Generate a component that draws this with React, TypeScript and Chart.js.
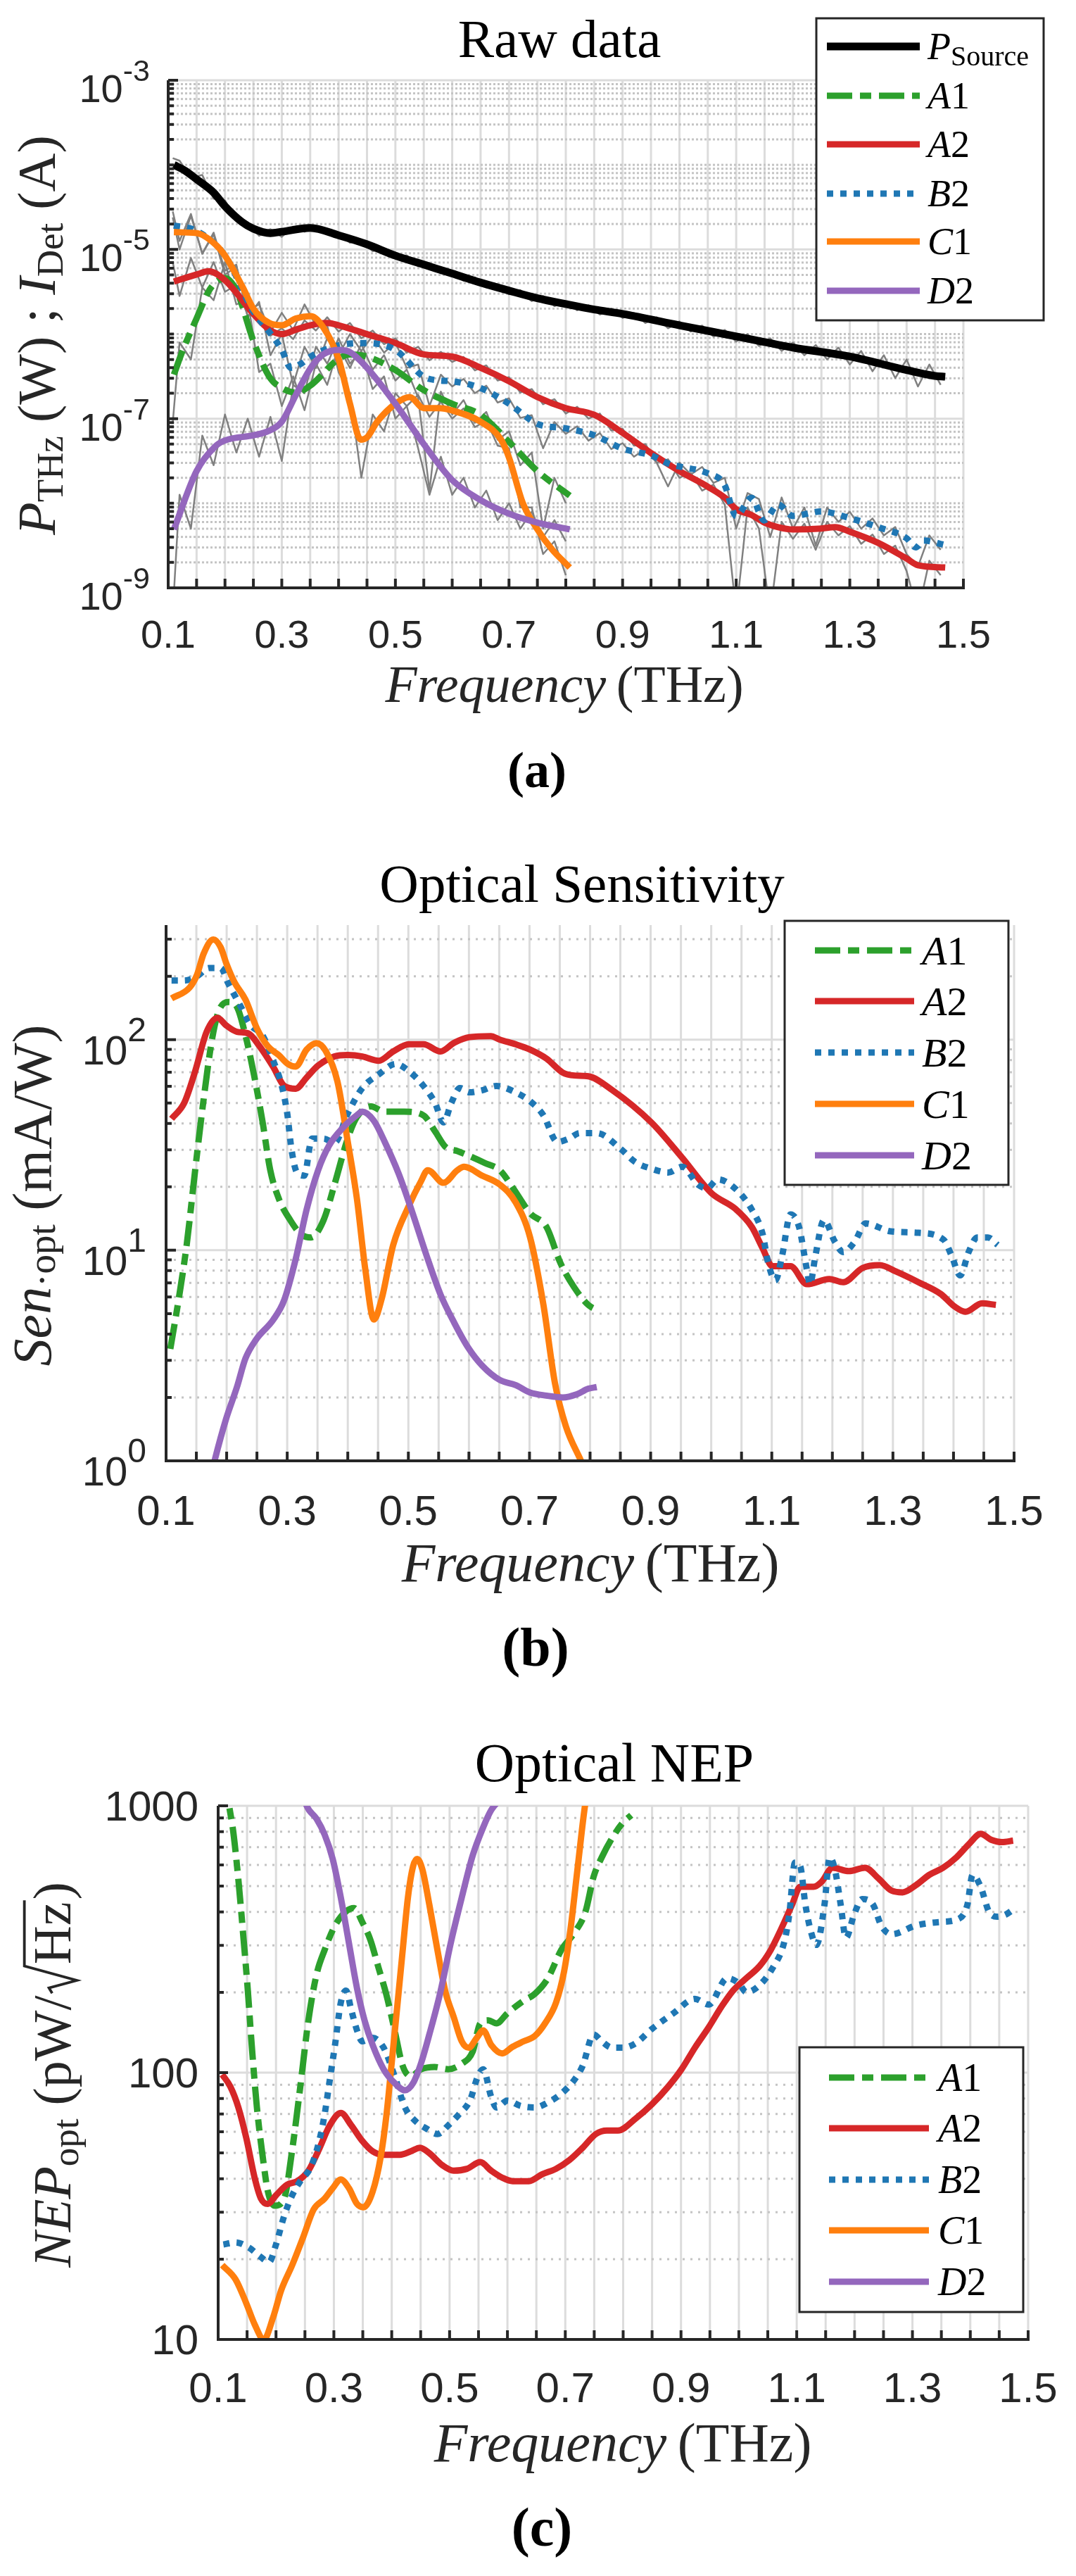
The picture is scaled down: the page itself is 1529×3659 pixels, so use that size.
"use client";
import { useEffect, useRef } from "react";
import Chart from "chart.js/auto";

const W = 1529;
const SERIF = '"Liberation Serif", "Times New Roman", serif';
const SANS = '"Liberation Sans", Arial, Helvetica, sans-serif';
const INK = "#262626";

// ---------- x axis ----------
const xTickVals = [0.1, 0.3, 0.5, 0.7, 0.9, 1.1, 1.3, 1.5];
const xTickText = ["0.1", "0.3", "0.5", "0.7", "0.9", "1.1", "1.3", "1.5"];

// ---------- (a) Raw data: smoothed traces ----------
const srcFreq = [0.11, 0.13, 0.15, 0.18, 0.2, 0.23, 0.25, 0.28, 0.3, 0.35, 0.4, 0.45, 0.5, 0.55, 0.6, 0.65, 0.7, 0.75, 0.8, 0.85, 0.9, 1.0, 1.1, 1.2, 1.3, 1.4, 1.45, 1.468];
const srcPower = [1.0e-4, 8.5e-5, 6.75e-5, 4.7e-5, 3.24e-5, 2.11e-5, 1.76e-5, 1.56e-5, 1.62e-5, 1.8e-5, 1.47e-5, 1.15e-5, 8.45e-6, 6.62e-6, 5.19e-6, 4.06e-6, 3.26e-6, 2.65e-6, 2.26e-6, 1.95e-6, 1.73e-6, 1.27e-6, 9.38e-7, 6.91e-7, 5.42e-7, 3.75e-7, 3.2e-7, 3.13e-7];

const a1FreqA = [0.11, 0.126, 0.15, 0.171, 0.183, 0.2, 0.221, 0.25, 0.278, 0.3, 0.325, 0.35, 0.4, 0.42, 0.45, 0.5, 0.55, 0.6, 0.65, 0.7, 0.75, 0.807];
const a1CurA = [3.32e-7, 6.5e-7, 1.53e-6, 3.18e-6, 4.06e-6, 4.59e-6, 3.18e-6, 8.3e-7, 3.13e-7, 2.3e-7, 2.04e-7, 2.45e-7, 5.09e-7, 5.75e-7, 5.42e-7, 3.75e-7, 2.17e-7, 1.5e-7, 1.11e-7, 5.32e-8, 2.4e-8, 1.23e-8];

const a2FreqA = [0.11, 0.15, 0.171, 0.2, 0.25, 0.278, 0.3, 0.325, 0.35, 0.38, 0.4, 0.45, 0.5, 0.55, 0.6, 0.65, 0.7, 0.75, 0.8, 0.85, 0.9, 0.95, 1.0, 1.05, 1.08, 1.1, 1.127, 1.15, 1.174, 1.2, 1.25, 1.274, 1.3, 1.35, 1.4, 1.42, 1.468];
const a2CurA = [4.17e-6, 5.06e-6, 5.52e-6, 4.32e-6, 1.73e-6, 1.13e-6, 9.98e-7, 1.13e-6, 1.27e-6, 1.35e-6, 1.27e-6, 9.98e-7, 7.82e-7, 5.75e-7, 5.42e-7, 3.99e-7, 2.77e-7, 1.8e-7, 1.33e-7, 1.11e-7, 6.79e-8, 3.92e-8, 2.4e-8, 1.57e-8, 1.16e-8, 8.51e-9, 7.26e-9, 5.9e-9, 5.22e-9, 4.91e-9, 5.03e-9, 5.22e-9, 4.62e-9, 3.4e-9, 2.22e-9, 1.85e-9, 1.74e-9];

const b2FreqA = [0.11, 0.15, 0.2, 0.25, 0.278, 0.3, 0.316, 0.335, 0.351, 0.4, 0.45, 0.5, 0.55, 0.577, 0.6, 0.65, 0.7, 0.75, 0.8, 0.85, 0.9, 0.95, 0.984, 1.0, 1.05, 1.079, 1.1, 1.127, 1.149, 1.174, 1.2, 1.25, 1.3, 1.35, 1.4, 1.416, 1.43, 1.468];
const b2CurA = [1.92e-5, 1.66e-5, 8.45e-6, 1.84e-6, 1.06e-6, 6.5e-7, 3.99e-7, 4.51e-7, 5.42e-7, 7.35e-7, 7.82e-7, 6.5e-7, 3.13e-7, 2.83e-7, 2.77e-7, 2.3e-7, 1.5e-7, 8.67e-8, 7.67e-8, 6.38e-8, 4.42e-8, 3.68e-8, 2.88e-8, 2.72e-8, 2.26e-8, 1.67e-8, 7.08e-9, 1.16e-8, 6.27e-9, 9.61e-9, 7.08e-9, 8.0e-9, 6.67e-9, 5.22e-9, 3.85e-9, 3.01e-9, 3.62e-9, 3.21e-9];

const c1FreqA = [0.11, 0.15, 0.183, 0.2, 0.231, 0.251, 0.278, 0.3, 0.325, 0.351, 0.373, 0.4, 0.42, 0.439, 0.45, 0.468, 0.5, 0.525, 0.55, 0.577, 0.6, 0.65, 0.686, 0.7, 0.724, 0.75, 0.776, 0.807];
const c1CurA = [1.6e-5, 1.56e-5, 1.15e-5, 8.45e-6, 3.6e-6, 1.95e-6, 1.35e-6, 1.27e-6, 1.53e-6, 1.63e-6, 1.2e-6, 5.09e-7, 1.5e-7, 5.65e-8, 6.01e-8, 9.2e-8, 1.5e-7, 1.8e-7, 1.33e-7, 1.33e-7, 1.25e-7, 9.2e-8, 5.65e-8, 3.47e-8, 1.02e-8, 4.91e-9, 2.83e-9, 1.74e-9];

const d2FreqA = [0.11, 0.15, 0.183, 0.2, 0.251, 0.278, 0.3, 0.325, 0.351, 0.373, 0.4, 0.42, 0.45, 0.5, 0.55, 0.6, 0.65, 0.7, 0.75, 0.807];
const d2CurA = [4.91e-9, 2.4e-8, 4.71e-8, 5.52e-8, 6.38e-8, 7.21e-8, 9.2e-8, 1.92e-7, 3.99e-7, 5.75e-7, 6.5e-7, 6.12e-7, 3.99e-7, 1.5e-7, 5.0e-8, 1.88e-8, 1.09e-8, 7.53e-9, 5.9e-9, 4.91e-9];

// ---------- (a) Raw data: unsmoothed (grey) traces ----------
const rawFreqLong = [0.108, 0.12, 0.14, 0.16, 0.18, 0.2, 0.22, 0.24, 0.26, 0.28, 0.3, 0.32, 0.34, 0.36, 0.38, 0.4, 0.42, 0.44, 0.46, 0.48, 0.5, 0.52, 0.54, 0.56, 0.58, 0.6, 0.62, 0.64, 0.66, 0.68, 0.7, 0.72, 0.74, 0.76, 0.78, 0.8, 0.82, 0.84, 0.86, 0.88, 0.9, 0.92, 0.94, 0.96, 0.98, 1.0, 1.02, 1.04, 1.06, 1.08, 1.1, 1.12, 1.14, 1.16, 1.18, 1.2, 1.22, 1.24, 1.26, 1.28, 1.3, 1.32, 1.34, 1.36, 1.38, 1.4, 1.42, 1.44, 1.46];
const rawFreqShort = [0.108, 0.12, 0.14, 0.16, 0.18, 0.2, 0.22, 0.24, 0.26, 0.28, 0.3, 0.32, 0.34, 0.36, 0.38, 0.4, 0.42, 0.44, 0.46, 0.48, 0.5, 0.52, 0.54, 0.56, 0.58, 0.6, 0.62, 0.64, 0.66, 0.68, 0.7, 0.72, 0.74, 0.76, 0.78, 0.8];

const srcRaw = [1.2e-4, 1.12e-4, 7.08e-5, 7.59e-5, 3.98e-5, 3.8e-5, 2.19e-5, 2.09e-5, 1.45e-5, 1.74e-5, 1.41e-5, 1.86e-5, 1.62e-5, 1.91e-5, 1.51e-5, 1.58e-5, 1.2e-5, 1.29e-5, 9.55e-6, 1.02e-5, 7.76e-6, 8.51e-6, 6.31e-6, 6.92e-6, 5.25e-6, 5.62e-6, 4.27e-6, 4.68e-6, 3.55e-6, 3.89e-6, 2.95e-6, 3.31e-6, 2.45e-6, 2.82e-6, 2.14e-6, 2.45e-6, 1.91e-6, 2.19e-6, 1.7e-6, 2.0e-6, 1.55e-6, 1.78e-6, 1.35e-6, 1.58e-6, 1.17e-6, 1.41e-6, 1.07e-6, 1.26e-6, 9.33e-7, 1.12e-6, 8.13e-7, 1.0e-6, 7.24e-7, 8.91e-7, 6.31e-7, 7.94e-7, 5.62e-7, 7.41e-7, 5.01e-7, 6.92e-7, 4.37e-7, 6.31e-7, 3.63e-7, 5.62e-7, 3.02e-7, 5.01e-7, 2.4e-7, 4.37e-7, 2.51e-7];
const a2Raw = [7.08e-6, 2.82e-6, 7.94e-6, 3.55e-6, 7.08e-6, 3.16e-6, 3.8e-6, 1.66e-6, 1.82e-6, 9.55e-7, 1.17e-6, 8.71e-7, 1.45e-6, 1.1e-6, 1.58e-6, 1.07e-6, 1.35e-6, 8.91e-7, 1.1e-6, 7.59e-7, 8.91e-7, 6.03e-7, 7.08e-7, 4.9e-7, 6.17e-7, 4.68e-7, 5.37e-7, 3.72e-7, 4.27e-7, 2.82e-7, 3.09e-7, 2.04e-7, 2.24e-7, 1.48e-7, 1.7e-7, 1.15e-7, 1.38e-7, 1.0e-7, 1.15e-7, 7.24e-8, 7.59e-8, 4.79e-8, 5.01e-8, 3.02e-8, 3.31e-8, 2.0e-8, 2.29e-8, 1.41e-8, 1.66e-8, 9.55e-9, 5.01e-10, 8.91e-9, 5.01e-9, 5.01e-10, 6.03e-9, 3.8e-9, 5.75e-9, 2.82e-9, 6.03e-9, 4.17e-9, 5.37e-9, 3.31e-9, 4.27e-9, 2.51e-9, 3.16e-9, 1.58e-9, 5.01e-10, 2.09e-9, 1.41e-9];
const b2Raw = [2.82e-5, 1.26e-5, 2.63e-5, 8.91e-6, 1.58e-5, 5.62e-6, 6.61e-6, 1.58e-6, 2.4e-6, 5.62e-7, 1.0e-6, 2.51e-7, 7.08e-7, 3.98e-7, 8.91e-7, 5.62e-7, 1.0e-6, 6.31e-7, 9.55e-7, 6.03e-7, 7.94e-7, 3.98e-7, 4.37e-7, 1.41e-7, 3.31e-7, 2.4e-7, 2.95e-7, 2.0e-7, 2.45e-7, 1.55e-7, 1.74e-7, 1.02e-7, 1.1e-7, 4.47e-8, 9.12e-8, 6.61e-8, 8.13e-8, 5.5e-8, 6.76e-8, 4.37e-8, 5.13e-8, 3.55e-8, 4.37e-8, 3.02e-8, 1.58e-8, 3.02e-8, 2.19e-8, 2.69e-8, 1.74e-8, 2.0e-8, 5.01e-9, 1.32e-8, 1.12e-8, 3.98e-9, 1.17e-8, 5.01e-9, 8.91e-9, 3.16e-9, 8.91e-9, 6.03e-9, 7.94e-9, 5.01e-9, 6.61e-9, 4.17e-9, 5.25e-9, 2.51e-9, 1.78e-9, 4.17e-9, 2.82e-9];
const a1Raw = [8.91e-8, 7.94e-7, 5.01e-7, 3.55e-6, 2.51e-6, 7.08e-6, 2.24e-6, 2.51e-6, 3.55e-7, 4.47e-7, 1.41e-7, 3.16e-7, 1.26e-7, 4.47e-7, 2.51e-7, 7.08e-7, 3.98e-7, 7.59e-7, 3.8e-7, 5.62e-7, 2.82e-7, 3.8e-7, 1.78e-7, 1.41e-8, 2.09e-7, 1.12e-7, 1.66e-7, 8.91e-8, 1.2e-7, 5.62e-8, 7.08e-8, 2.82e-8, 3.98e-8, 5.01e-9, 2.0e-8, 1.0e-8];
const c1Raw = [2.4e-5, 1.0e-5, 2.51e-5, 8.91e-6, 1.51e-5, 5.01e-6, 6.31e-6, 1.91e-6, 2.24e-6, 1.05e-6, 1.78e-6, 1.12e-6, 2.24e-6, 1.26e-6, 1.26e-6, 3.55e-7, 2.0e-7, 2.0e-8, 1.12e-7, 7.08e-8, 2.0e-7, 1.41e-7, 1.91e-7, 1.05e-7, 1.58e-7, 1.0e-7, 1.32e-7, 7.94e-8, 9.55e-8, 4.79e-8, 4.47e-8, 8.91e-9, 8.91e-9, 2.51e-9, 3.55e-9, 1.41e-9];
const d2Raw = [5.01e-10, 1.26e-8, 5.01e-9, 6.31e-8, 2.82e-8, 1.12e-7, 3.98e-8, 1.0e-7, 3.55e-8, 1.05e-7, 3.16e-8, 2.51e-7, 2.0e-7, 7.08e-7, 4.47e-7, 8.91e-7, 4.47e-7, 6.31e-7, 2.24e-7, 3.16e-7, 1.0e-7, 1.41e-7, 4.47e-8, 1.26e-8, 3.55e-8, 1.26e-8, 2.0e-8, 8.91e-9, 1.41e-8, 6.31e-9, 1.0e-8, 5.01e-9, 7.94e-9, 3.98e-9, 6.31e-9, 3.55e-9];

// ---------- (b) Optical sensitivity (mA/W) ----------
const a1FreqB = [0.107, 0.121, 0.134, 0.148, 0.162, 0.176, 0.187, 0.203, 0.217, 0.231, 0.245, 0.259, 0.272, 0.286, 0.305, 0.323, 0.339, 0.36, 0.378, 0.4, 0.415, 0.438, 0.461, 0.493, 0.525, 0.544, 0.562, 0.581, 0.601, 0.627, 0.651, 0.673, 0.701, 0.728, 0.751, 0.774, 0.797, 0.811];
const a1SenB = [3.4, 5.9, 10.6, 24.0, 52.1, 101, 137, 151, 143, 105, 68.4, 41.2, 24.0, 17.6, 13.9, 11.9, 11.5, 13.9, 20.5, 34.0, 42.9, 48.2, 45.5, 45.5, 43.7, 36.7, 30.8, 29.6, 28.0, 25.9, 24.0, 19.7, 15.0, 12.9, 8.7, 6.65, 5.5, 5.2];

const a2FreqB = [0.109, 0.13, 0.148, 0.167, 0.185, 0.199, 0.217, 0.236, 0.254, 0.277, 0.295, 0.314, 0.332, 0.351, 0.378, 0.4, 0.424, 0.451, 0.475, 0.501, 0.525, 0.553, 0.576, 0.601, 0.636, 0.651, 0.677, 0.701, 0.728, 0.755, 0.774, 0.797, 0.837, 0.901, 0.952, 1.001, 1.039, 1.067, 1.085, 1.101, 1.131, 1.158, 1.195, 1.218, 1.25, 1.278, 1.306, 1.342, 1.379, 1.402, 1.42, 1.447, 1.47];
const a2SenB = [42.1, 50.1, 70.8, 109, 127, 117, 109, 107, 93.3, 74.1, 60.3, 58.5, 66.1, 75.3, 83.2, 84.5, 83.2, 79.4, 87.9, 95.1, 95.1, 87.9, 96.8, 102.8, 104, 100, 95.1, 89.7, 81.3, 69.7, 67.6, 67.0, 57.5, 40.5, 27.5, 18.6, 15.8, 12.9, 10.2, 8.4, 8.4, 6.9, 7.3, 7.05, 8.24, 8.5, 7.9, 7.05, 6.2, 5.4, 5.1, 5.6, 5.5];

const b2FreqB = [0.109, 0.13, 0.151, 0.171, 0.19, 0.203, 0.222, 0.24, 0.259, 0.277, 0.291, 0.3, 0.307, 0.316, 0.328, 0.341, 0.36, 0.378, 0.4, 0.424, 0.451, 0.479, 0.501, 0.525, 0.544, 0.558, 0.571, 0.585, 0.601, 0.622, 0.645, 0.677, 0.701, 0.723, 0.746, 0.765, 0.783, 0.811, 0.851, 0.874, 0.901, 0.929, 0.952, 0.979, 0.993, 1.011, 1.039, 1.067, 1.085, 1.094, 1.106, 1.117, 1.131, 1.145, 1.158, 1.163, 1.172, 1.186, 1.204, 1.218, 1.237, 1.255, 1.296, 1.342, 1.384, 1.397, 1.411, 1.425, 1.439, 1.457, 1.473];
const b2SenB = [191, 191, 200, 219, 219, 184, 146, 117, 105, 79.4, 60.3, 44.7, 30.2, 23.4, 22.6, 33.9, 33.9, 32.4, 44.7, 58.9, 68.4, 76.7, 70.8, 60.3, 50.1, 40.5, 50.1, 58.9, 56.2, 57.5, 60.3, 56.2, 51.0, 43.7, 32.7, 33.9, 36.0, 36.0, 30.2, 26.3, 24.4, 23.4, 24.9, 20.4, 19.7, 21.7, 19.7, 15.6, 11.9, 8.7, 7.2, 9.4, 14.8, 12.9, 8.07, 6.9, 9.4, 13.9, 11.0, 9.8, 11.0, 13.4, 12.3, 12.1, 11.2, 9.4, 7.6, 9.8, 11.5, 11.5, 10.6];

const c1FreqB = [0.109, 0.139, 0.151, 0.162, 0.178, 0.19, 0.2, 0.213, 0.231, 0.25, 0.268, 0.286, 0.301, 0.314, 0.332, 0.348, 0.364, 0.383, 0.4, 0.415, 0.429, 0.443, 0.456, 0.475, 0.501, 0.521, 0.532, 0.558, 0.581, 0.592, 0.622, 0.651, 0.677, 0.701, 0.723, 0.742, 0.76, 0.785, 0.8];
const c1SenB = [157, 177, 203, 256, 299, 275, 228, 187, 155, 113, 93, 84.5, 76.7, 74.5, 89.7, 96.2, 87.9, 63.1, 32.7, 17.6, 8.07, 4.69, 5.89, 10.6, 16.3, 21.3, 24.0, 20.9, 24.0, 24.9, 22.6, 20.5, 16.9, 11.5, 5.5, 2.34, 1.46, 1.0, 0.8];

const d2FreqB = [0.172, 0.18, 0.199, 0.217, 0.231, 0.249, 0.277, 0.295, 0.314, 0.332, 0.351, 0.369, 0.392, 0.415, 0.424, 0.443, 0.461, 0.484, 0.507, 0.53, 0.553, 0.576, 0.599, 0.622, 0.651, 0.677, 0.701, 0.728, 0.755, 0.778, 0.797, 0.811];
const d2SenB = [0.8, 1.0, 1.58, 2.24, 3.06, 3.78, 4.68, 5.8, 9.08, 15.6, 24.0, 31.4, 38.2, 43.8, 45.5, 41.2, 32.7, 23.1, 15.0, 9.44, 6.17, 4.51, 3.44, 2.83, 2.42, 2.29, 2.11, 2.04, 2.0, 2.07, 2.2, 2.24];

// ---------- (c) Optical NEP (pW/sqrt(Hz)) ----------
const a1FreqC = [0.112, 0.119, 0.126, 0.135, 0.144, 0.151, 0.158, 0.167, 0.177, 0.186, 0.198, 0.214, 0.228, 0.242, 0.256, 0.27, 0.284, 0.302, 0.321, 0.335, 0.349, 0.363, 0.377, 0.391, 0.405, 0.419, 0.433, 0.451, 0.474, 0.498, 0.521, 0.54, 0.553, 0.567, 0.581, 0.6, 0.628, 0.647, 0.67, 0.693, 0.716, 0.735, 0.749, 0.763, 0.781, 0.8, 0.814];
const a1NepC = [1300, 1000, 803, 527, 315, 207, 127, 74, 48.4, 35.8, 31.7, 33.7, 51.4, 88.7, 157, 233, 288, 356, 402, 414, 367, 315, 248, 195, 144, 106, 97, 103, 105, 103, 108, 120, 153, 157, 153, 167, 186, 197, 226, 288, 335, 402, 543, 641, 757, 867, 922];

const a2FreqC = [0.107, 0.121, 0.135, 0.149, 0.163, 0.174, 0.186, 0.2, 0.219, 0.237, 0.256, 0.274, 0.293, 0.312, 0.33, 0.349, 0.367, 0.386, 0.414, 0.433, 0.449, 0.465, 0.488, 0.507, 0.53, 0.553, 0.572, 0.591, 0.609, 0.637, 0.66, 0.684, 0.707, 0.73, 0.753, 0.772, 0.791, 0.822, 0.85, 0.878, 0.901, 0.924, 0.948, 0.971, 0.99, 1.013, 1.036, 1.055, 1.073, 1.092, 1.106, 1.129, 1.143, 1.162, 1.19, 1.218, 1.241, 1.264, 1.283, 1.306, 1.329, 1.353, 1.376, 1.399, 1.418, 1.436, 1.455, 1.474];
const a2NepC = [98.4, 88.7, 74, 56.4, 40.4, 33.7, 32.2, 34.7, 38, 39.2, 42.9, 51.4, 63.5, 70.6, 63.5, 55.5, 50.7, 49.2, 49.2, 50.7, 52.3, 49.9, 44.9, 42.9, 43.6, 46.2, 42.9, 40.4, 39.2, 39.2, 41.6, 43.6, 47, 52.3, 58.9, 60.7, 60.7, 67.4, 76.2, 88.7, 103, 124, 148, 178, 203, 226, 251, 288, 345, 426, 497, 497, 519, 586, 569, 586, 535, 481, 474, 504, 551, 586, 641, 724, 785, 746, 731, 740];

const b2FreqC = [0.109, 0.13, 0.153, 0.172, 0.188, 0.2, 0.214, 0.228, 0.242, 0.26, 0.274, 0.284, 0.293, 0.302, 0.312, 0.321, 0.33, 0.34, 0.349, 0.367, 0.386, 0.405, 0.423, 0.442, 0.46, 0.479, 0.498, 0.516, 0.535, 0.549, 0.558, 0.572, 0.581, 0.6, 0.623, 0.647, 0.67, 0.693, 0.716, 0.73, 0.749, 0.763, 0.781, 0.8, 0.822, 0.85, 0.887, 0.924, 0.948, 0.98, 1.0, 1.013, 1.036, 1.059, 1.078, 1.087, 1.097, 1.106, 1.115, 1.125, 1.134, 1.148, 1.157, 1.166, 1.176, 1.185, 1.199, 1.213, 1.232, 1.246, 1.264, 1.306, 1.348, 1.381, 1.395, 1.404, 1.418, 1.432, 1.446, 1.46, 1.474];
const b2NepC = [22.7, 23.1, 22.1, 20.5, 19.5, 22.7, 29, 34.7, 39.2, 44.2, 54.7, 69.7, 94.2, 127, 183, 203, 172, 144, 131, 135, 124, 97, 74, 65.5, 61.7, 58.9, 63.5, 69.7, 78.5, 97, 103, 81, 74, 78.5, 75, 74, 77.3, 83.4, 94.2, 106, 139, 131, 124, 124, 129, 146, 167, 189, 180, 226, 216, 200, 213, 248, 306, 390, 612, 594, 426, 335, 301, 426, 641, 577, 426, 320, 390, 447, 426, 356, 330, 356, 367, 378, 426, 551, 497, 402, 384, 390, 408];

const c1FreqC = [0.107, 0.13, 0.149, 0.163, 0.179, 0.195, 0.209, 0.228, 0.247, 0.265, 0.284, 0.298, 0.312, 0.326, 0.34, 0.351, 0.367, 0.381, 0.391, 0.4, 0.409, 0.419, 0.428, 0.437, 0.444, 0.453, 0.465, 0.479, 0.493, 0.507, 0.521, 0.533, 0.547, 0.558, 0.572, 0.591, 0.609, 0.628, 0.647, 0.665, 0.684, 0.698, 0.709, 0.721, 0.733, 0.74];
const c1NepC = [19, 16.8, 13.6, 11.4, 10.0, 12.1, 15.3, 19, 24.2, 30.7, 33.7, 36.9, 39.8, 36.9, 32.2, 31.3, 35.8, 48.4, 69.7, 109, 172, 288, 453, 594, 632, 577, 426, 288, 200, 162, 131, 124, 135, 144, 127, 118, 125, 131, 137, 153, 183, 240, 345, 577, 964, 1200];

const d2FreqC = [0.245, 0.253, 0.27, 0.284, 0.298, 0.312, 0.326, 0.34, 0.353, 0.367, 0.386, 0.405, 0.423, 0.437, 0.451, 0.465, 0.484, 0.502, 0.521, 0.54, 0.558, 0.572, 0.586];
const d2NepC = [1150, 1000, 894, 780, 632, 453, 306, 207, 157, 127, 103, 91.4, 85.9, 91.4, 109, 139, 200, 306, 453, 652, 830, 964, 1050];

// ---------- line styles ----------
const STYLES: Record<string, { color: string; width: number; dash: number[] }> = {
  P: { color: "#000000", width: 11, dash: [] },
  A1: { color: "#2ca02c", width: 9, dash: [36, 11, 16, 11] },
  A2: { color: "#d62728", width: 9, dash: [] },
  B2: { color: "#1f77b4", width: 9, dash: [9, 10] },
  C1: { color: "#ff7f0e", width: 9, dash: [] },
  D2: { color: "#9467bd", width: 9, dash: [] },
};

function curve(label: string, xs: number[], ys: number[], key: string, order: number) {
  const s = STYLES[key];
  return {
    label,
    data: xs.map((x, i) => ({ x, y: ys[i] })),
    borderColor: s.color,
    borderWidth: s.width,
    borderDash: s.dash,
    borderCapStyle: "butt",
    borderJoinStyle: "round",
    cubicInterpolationMode: "monotone",
    capBezierPoints: false,
    pointRadius: 0,
    fill: false,
    clip: 0,
    order,
  };
}

function rawTrace(xs: number[], ys: number[]) {
  return {
    label: "raw",
    data: xs.map((x, i) => ({ x, y: ys[i] })),
    borderColor: "#808080",
    borderWidth: 2.5,
    borderJoinStyle: "round",
    tension: 0,
    pointRadius: 0,
    fill: false,
    clip: 0,
    order: 20,
  };
}

// ---------- rich text helpers ----------
type Run = { t: string; size: number; italic?: boolean; bold?: boolean; sans?: boolean; dy?: number; sqrt?: boolean };

const fontOf = (r: Run) =>
  `${r.italic ? "italic " : ""}${r.bold ? "bold " : ""}${r.size}px ${r.sans ? SANS : SERIF}`;

function runsWidth(ctx: CanvasRenderingContext2D, runs: Run[]) {
  let w = 0;
  for (const r of runs) {
    ctx.font = fontOf(r);
    w += ctx.measureText(r.t).width + (r.sqrt ? r.size * 0.62 : 0);
  }
  return w;
}

function drawRuns(ctx: CanvasRenderingContext2D, runs: Run[], x: number, y: number, align: string, color: string) {
  const total = runsWidth(ctx, runs);
  let cx = align === "center" ? x - total / 2 : align === "right" ? x - total : x;
  ctx.fillStyle = color;
  ctx.strokeStyle = color;
  ctx.textAlign = "left";
  ctx.textBaseline = "alphabetic";
  for (const r of runs) {
    ctx.font = fontOf(r);
    const w = ctx.measureText(r.t).width;
    const by = y + (r.dy ?? 0);
    if (r.sqrt) {
      const s = r.size;
      const rw = s * 0.55;
      ctx.beginPath();
      ctx.lineWidth = s * 0.05;
      ctx.setLineDash([]);
      ctx.moveTo(cx + s * 0.04, by - s * 0.34);
      ctx.lineTo(cx + s * 0.14, by - s * 0.4);
      ctx.lineTo(cx + s * 0.28, by + s * 0.12);
      ctx.lineTo(cx + rw, by - s * 0.86);
      ctx.lineTo(cx + rw + w + s * 0.06, by - s * 0.86);
      ctx.stroke();
      ctx.fillText(r.t, cx + rw + s * 0.03, by);
      cx += w + s * 0.62;
    } else {
      ctx.fillText(r.t, cx, by);
      cx += w;
    }
  }
}

const mathLabel = (a: string, b: string, size: number): Run[] => [
  { t: a, size, italic: true },
  { t: b, size },
];
const freqTitle = (size: number): Run[] => [
  { t: "Frequency", size, italic: true },
  { t: "\u2009(THz)", size },
];

// ---------- panel description ----------
interface PanelSpec {
  top: number;
  height: number;
  area: { left: number; right: number; top: number; bottom: number };
  yMin: number;
  yMax: number;
  yTicks: number[];
  yTickRuns: (v: number) => Run[];
  yTickRight: number;
  yTickBase: number;
  xTickSize: number;
  xTickBase: number;
  dotDash: number[];
  title: { runs: Run[]; x: number; y: number };
  xTitle: { runs: Run[]; x: number; y: number };
  yTitle: { runs: Run[]; x: number; y: number };
  caption: { runs: Run[]; x: number; y: number };
  legend: { box: number[]; rows: number[]; lineX: number[]; textX: number; size: number; items: { key: string; runs: Run[] }[] };
  datasets: any[];
}

function gridValues(spec: PanelSpec) {
  const out: { v: number; major: boolean }[] = [];
  const lo = Math.floor(Math.log10(spec.yMin));
  const hi = Math.ceil(Math.log10(spec.yMax));
  for (let d = lo; d <= hi; d++) {
    for (let k = 1; k <= 9; k++) {
      const v = k * Math.pow(10, d);
      if (v <= spec.yMin * 1.0001 || v > spec.yMax * 1.0001) continue;
      const major = spec.yTicks.some((t) => Math.abs(t - v) / t < 1e-6);
      out.push({ v, major });
    }
  }
  return out;
}

function framePlugin(spec: PanelSpec) {
  return {
    id: "matlabFrame",
    beforeDatasetsDraw(chart: any) {
      const { ctx, chartArea: a, scales } = chart;
      ctx.save();
      ctx.lineWidth = 3;
      // vertical grid every 0.05 THz
      ctx.strokeStyle = "#dcdcdc";
      ctx.setLineDash([]);
      for (let i = 1; i <= 28; i++) {
        const px = scales.x.getPixelForValue(0.1 + i * 0.05);
        ctx.beginPath();
        ctx.moveTo(px, a.top);
        ctx.lineTo(px, a.bottom);
        ctx.stroke();
      }
      // horizontal grid: solid at labelled decades, dotted elsewhere
      for (const g of gridValues(spec)) {
        const py = scales.y.getPixelForValue(g.v);
        ctx.strokeStyle = g.major ? "#dcdcdc" : "#c4c4c4";
        ctx.setLineDash(g.major ? [] : spec.dotDash);
        ctx.beginPath();
        ctx.moveTo(a.left, py);
        ctx.lineTo(a.right, py);
        ctx.stroke();
      }
      ctx.restore();
    },
    afterDatasetsDraw(chart: any) {
      const { ctx, chartArea: a, scales } = chart;
      ctx.save();
      ctx.strokeStyle = INK;
      ctx.lineWidth = 4;
      ctx.setLineDash([]);
      ctx.beginPath();
      ctx.moveTo(a.left, a.top);
      ctx.lineTo(a.left, a.bottom + 2);
      ctx.moveTo(a.left - 2, a.bottom);
      ctx.lineTo(a.right + 2, a.bottom);
      ctx.stroke();
      ctx.beginPath();
      for (let i = 1; i <= 28; i++) {
        const px = scales.x.getPixelForValue(0.1 + i * 0.05);
        ctx.moveTo(px, a.bottom);
        ctx.lineTo(px, a.bottom - 13);
      }
      for (const g of gridValues(spec)) {
        const py = scales.y.getPixelForValue(g.v);
        ctx.moveTo(a.left, py);
        ctx.lineTo(a.left + (g.major ? 14 : 8), py);
      }
      ctx.stroke();
      ctx.restore();
    },
    afterDraw(chart: any) {
      const { ctx, scales } = chart;
      ctx.save();
      // tick labels
      xTickVals.forEach((v, i) => {
        const px = scales.x.getPixelForValue(v);
        drawRuns(ctx, [{ t: xTickText[i], size: spec.xTickSize, sans: true }], px, spec.xTickBase, "center", INK);
      });
      for (const v of spec.yTicks) {
        const py = scales.y.getPixelForValue(v);
        drawRuns(ctx, spec.yTickRuns(v), spec.yTickRight, py + spec.yTickBase, "right", INK);
      }
      // titles
      drawRuns(ctx, spec.title.runs, spec.title.x, spec.title.y, "center", "#000");
      drawRuns(ctx, spec.xTitle.runs, spec.xTitle.x, spec.xTitle.y, "center", INK);
      ctx.save();
      ctx.translate(spec.yTitle.x, spec.yTitle.y);
      ctx.rotate(-Math.PI / 2);
      drawRuns(ctx, spec.yTitle.runs, 0, 0, "center", INK);
      ctx.restore();
      drawRuns(ctx, spec.caption.runs, spec.caption.x, spec.caption.y, "center", "#000");
      // legend
      const L = spec.legend;
      const [x0, y0, x1, y1] = L.box;
      ctx.fillStyle = "#fff";
      ctx.fillRect(x0, y0, x1 - x0, y1 - y0);
      ctx.strokeStyle = INK;
      ctx.lineWidth = 3;
      ctx.setLineDash([]);
      ctx.strokeRect(x0, y0, x1 - x0, y1 - y0);
      L.items.forEach((item, i) => {
        const s = STYLES[item.key];
        const ry = L.rows[i];
        ctx.strokeStyle = s.color;
        ctx.lineWidth = s.width;
        ctx.lineCap = "butt";
        ctx.setLineDash(s.dash);
        ctx.beginPath();
        ctx.moveTo(L.lineX[0], ry);
        ctx.lineTo(L.lineX[1], ry);
        ctx.stroke();
        ctx.setLineDash([]);
        drawRuns(ctx, item.runs, L.textX, ry + L.size * 0.34, "left", "#000");
      });
      ctx.restore();
    },
  };
}

const detectorLegend = (size: number) => [
  { key: "A1", runs: mathLabel("A", "1", size) },
  { key: "A2", runs: mathLabel("A", "2", size) },
  { key: "B2", runs: mathLabel("B", "2", size) },
  { key: "C1", runs: mathLabel("C", "1", size) },
  { key: "D2", runs: mathLabel("D", "2", size) },
];

const panelA: PanelSpec = {
  top: 0,
  height: 1150,
  area: { left: 239, right: 1369, top: 114, bottom: 835 },
  yMin: 1e-9,
  yMax: 1e-3,
  yTicks: [1e-9, 1e-7, 1e-5, 1e-3],
  yTickRuns: (v) => [
    { t: "10", size: 56, sans: true },
    { t: String(Math.round(Math.log10(v))), size: 43, sans: true, dy: -30 },
  ],
  yTickRight: 213,
  yTickBase: 31,
  xTickSize: 56,
  xTickBase: 920,
  dotDash: [3, 3],
  title: { runs: [{ t: "Raw data", size: 77 }], x: 795, y: 81 },
  xTitle: { runs: freqTitle(74), x: 802, y: 997 },
  yTitle: {
    runs: [
      { t: "P", size: 76, italic: true },
      { t: "THz", size: 53, dy: 11 },
      { t: " (W) ; ", size: 76 },
      { t: "I", size: 76, italic: true },
      { t: "Det", size: 53, dy: 11 },
      { t: " (A)", size: 76 },
    ],
    x: 78,
    y: 476,
  },
  caption: { runs: [{ t: "(a)", size: 72, bold: true }], x: 763, y: 1118 },
  legend: {
    box: [1160, 26, 1483, 455],
    rows: [66, 136, 205, 275, 343, 413],
    lineX: [1175, 1307],
    textX: 1318,
    size: 54,
    items: [
      { key: "P", runs: [{ t: "P", size: 54, italic: true }, { t: "Source", size: 40, dy: 9 }] },
      ...detectorLegend(54),
    ],
  },
  datasets: [
    curve("P_Source", srcFreq, srcPower, "P", 0),
    curve("D2", d2FreqA, d2CurA, "D2", 1),
    curve("C1", c1FreqA, c1CurA, "C1", 2),
    curve("B2", b2FreqA, b2CurA, "B2", 3),
    curve("A2", a2FreqA, a2CurA, "A2", 4),
    curve("A1", a1FreqA, a1CurA, "A1", 5),
    rawTrace(rawFreqLong, srcRaw),
    rawTrace(rawFreqLong, a2Raw),
    rawTrace(rawFreqLong, b2Raw),
    rawTrace(rawFreqShort, a1Raw),
    rawTrace(rawFreqShort, c1Raw),
    rawTrace(rawFreqShort, d2Raw),
  ],
};

const panelB: PanelSpec = {
  top: 1150,
  height: 1250,
  area: { left: 236, right: 1441, top: 164, bottom: 925 },
  yMin: 1,
  yMax: 350,
  yTicks: [1, 10, 100],
  yTickRuns: (v) => [
    { t: "10", size: 58, sans: true },
    { t: String(Math.round(Math.log10(v))), size: 48, sans: true, dy: -33 },
  ],
  yTickRight: 208,
  yTickBase: 35,
  xTickSize: 60,
  xTickBase: 1016,
  dotDash: [3, 8],
  title: { runs: [{ t: "Optical Sensitivity", size: 77 }], x: 827, y: 131 },
  xTitle: { runs: freqTitle(78), x: 839, y: 1096 },
  yTitle: {
    runs: [
      { t: "Sen", size: 78, italic: true },
      { t: "\u00b7opt", size: 55, dy: 6 },
      { t: " (mA/W)", size: 78 },
    ],
    x: 72,
    y: 548,
  },
  caption: { runs: [{ t: "(b)", size: 78, bold: true }], x: 761, y: 1216 },
  legend: {
    box: [1115, 158, 1433, 533],
    rows: [200, 272, 345, 418, 491],
    lineX: [1158, 1299],
    textX: 1310,
    size: 58,
    items: detectorLegend(58),
  },
  datasets: [
    curve("D2", d2FreqB, d2SenB, "D2", 1),
    curve("C1", c1FreqB, c1SenB, "C1", 2),
    curve("B2", b2FreqB, b2SenB, "B2", 3),
    curve("A2", a2FreqB, a2SenB, "A2", 4),
    curve("A1", a1FreqB, a1SenB, "A1", 5),
  ],
};

const panelC: PanelSpec = {
  top: 2400,
  height: 1259,
  area: { left: 310, right: 1461, top: 165, bottom: 923 },
  yMin: 10,
  yMax: 1000,
  yTicks: [10, 100, 1000],
  yTickRuns: (v) => [{ t: String(v), size: 60, sans: true }],
  yTickRight: 282,
  yTickBase: 21,
  xTickSize: 60,
  xTickBase: 1012,
  dotDash: [3, 8],
  title: { runs: [{ t: "Optical NEP", size: 78 }], x: 873, y: 130 },
  xTitle: { runs: freqTitle(78), x: 885, y: 1096 },
  yTitle: {
    runs: [
      { t: "NEP", size: 76, italic: true },
      { t: "opt", size: 53, dy: 11 },
      { t: " (pW/", size: 76 },
      { t: "Hz", size: 76, sqrt: true },
      { t: ")", size: 76 },
    ],
    x: 100,
    y: 547,
  },
  caption: { runs: [{ t: "(c)", size: 78, bold: true }], x: 770, y: 1216 },
  legend: {
    box: [1136, 508, 1454, 884],
    rows: [551, 623, 696, 768, 841],
    lineX: [1178, 1320],
    textX: 1333,
    size: 56,
    items: detectorLegend(56),
  },
  datasets: [
    curve("D2", d2FreqC, d2NepC, "D2", 1),
    curve("C1", c1FreqC, c1NepC, "C1", 2),
    curve("B2", b2FreqC, b2NepC, "B2", 3),
    curve("A2", a2FreqC, a2NepC, "A2", 4),
    curve("A1", a1FreqC, a1NepC, "A1", 5),
  ],
};

function Panel({ spec }: { spec: PanelSpec }) {
  const canvasRef = useRef<HTMLCanvasElement | null>(null);

  useEffect(() => {
    const canvas = canvasRef.current;
    if (!canvas) return;
    const chart = new Chart(canvas, {
      type: "line",
      data: { datasets: spec.datasets },
      options: {
        responsive: false,
        animation: false,
        events: [],
        layout: {
          padding: {
            left: spec.area.left,
            right: W - spec.area.right,
            top: spec.area.top,
            bottom: spec.height - spec.area.bottom,
          },
        },
        scales: {
          x: { type: "linear", min: 0.1, max: 1.5, display: false },
          y: { type: "logarithmic", min: spec.yMin, max: spec.yMax, display: false },
        },
        plugins: {
          legend: { display: false },
          title: { display: false },
          tooltip: { enabled: false },
        },
      } as any,
      plugins: [framePlugin(spec)],
    });
    return () => chart.destroy();
  }, [spec]);

  return (
    <canvas
      ref={canvasRef}
      width={W}
      height={spec.height}
      style={{ position: "absolute", left: 0, top: spec.top, width: W, height: spec.height }}
    />
  );
}

export default function App() {
  return (
    <div style={{ position: "absolute", left: 0, top: 0, width: W, height: 3659, background: "#ffffff" }}>
      <Panel spec={panelA} />
      <Panel spec={panelB} />
      <Panel spec={panelC} />
    </div>
  );
}
